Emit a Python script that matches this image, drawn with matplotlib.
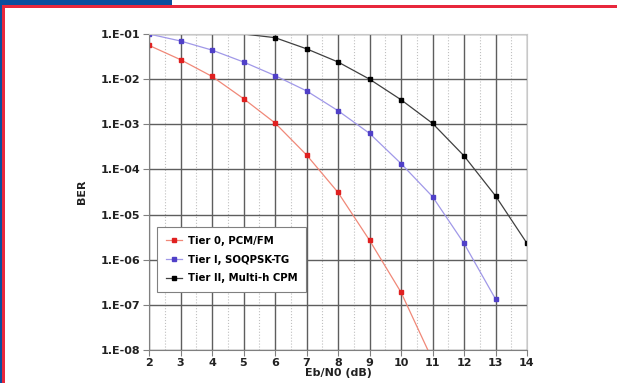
import matplotlib
matplotlib.use("Agg")
import matplotlib.pyplot as plt
from matplotlib.patches import Rectangle
from matplotlib.ticker import FixedLocator, NullFormatter

# ---- data ----
ebn0_tier0 = [2, 3, 4, 5, 6, 7, 8, 9, 10, 11]
ber_tier0 = [5.6e-2, 2.7e-2, 1.15e-2, 3.7e-3, 1.07e-3, 2.1e-4, 3.1e-5, 2.7e-6, 1.9e-7, 6.0e-9]

ebn0_tier1 = [2, 3, 4, 5, 6, 7, 8, 9, 10, 11, 12, 13]
ber_tier1 = [1.0e-1, 7.0e-2, 4.4e-2, 2.4e-2, 1.2e-2, 5.5e-3, 2.0e-3, 6.3e-4, 1.35e-4, 2.5e-5, 2.3e-6, 1.35e-7]

ebn0_tier2 = [5, 6, 7, 8, 9, 10, 11, 12, 13, 14]
ber_tier2 = [1.0e-1, 8.3e-2, 4.7e-2, 2.4e-2, 1.0e-2, 3.5e-3, 1.05e-3, 2.0e-4, 2.6e-5, 2.3e-6]

series_labels = ["Tier 0, PCM/FM", "Tier I, SOQPSK-TG", "Tier II, Multi-h CPM"]
x_ticks = list(range(2, 15))
y_ticks = [1e-1, 1e-2, 1e-3, 1e-4, 1e-5, 1e-6, 1e-7, 1e-8]
y_tick_labels = ["1.E-01", "1.E-02", "1.E-03", "1.E-04", "1.E-05", "1.E-06", "1.E-07", "1.E-08"]
x_label = "Eb/N0 (dB)"
y_label = "BER"

W, H = 617, 383
fig = plt.figure(figsize=(W / 100, H / 100), dpi=100)
fig.patch.set_facecolor("white")

# decorative frame (pixel coords, top-left origin)
def prect(x0, y0, w, h, color):
    fig.patches.append(Rectangle((x0 / W, 1 - (y0 + h) / H), w / W, h / H,
                                 transform=fig.transFigure, color=color, zorder=0, lw=0))

prect(0, 0, 172, 5.5, "#0a4f9e")
prect(0, 0, 2.2, H, "#0a4f9e")
prect(2.2, 5.5, W, 2.2, "#e8283c")
prect(2.2, 5.5, 2.6, H, "#e8283c")

left, right, top, bottom = 149, 527, 34, 350
ax = fig.add_axes([left / W, 1 - bottom / H, (right - left) / W, (bottom - top) / H])

ax.set_yscale("log")
ax.set_xlim(2, 14)
ax.set_ylim(1e-8, 1e-1)

# grid
ax.xaxis.set_major_locator(FixedLocator(x_ticks))
ax.xaxis.set_minor_locator(FixedLocator([x + 0.5 for x in x_ticks[:-1]]))
ax.yaxis.set_major_locator(FixedLocator(y_ticks))
ax.yaxis.set_minor_locator(FixedLocator([]))
ax.yaxis.set_minor_formatter(NullFormatter())
ax.set_yticklabels(y_tick_labels)
ax.grid(True, which="major", axis="both", color="#5e5e5e", lw=1.0)
ax.grid(True, which="minor", axis="x", color="#c0c0c0", lw=0.8, ls=":")
ax.set_axisbelow(True)

for s in ["left", "bottom"]:
    ax.spines[s].set_color("#808080")
for s in ["top", "right"]:
    ax.spines[s].set_color("#c8c8c8")

ax.tick_params(axis="both", which="major", length=4, color="#808080", width=0.8,
               labelsize=8, pad=2)
ax.tick_params(axis="x", which="minor", length=0)
for lab in ax.get_xticklabels() + ax.get_yticklabels():
    lab.set_fontweight("bold")
    lab.set_color("#222222")

ax.plot(ebn0_tier0, ber_tier0, color="#f08878", lw=0.9, marker="s", ms=2.4,
        mfc="#e02020", mec="#e02020", label=series_labels[0])
ax.plot(ebn0_tier1, ber_tier1, color="#a098e8", lw=0.9, marker="s", ms=2.4,
        mfc="#5040c8", mec="#5040c8", label=series_labels[1])
ax.plot(ebn0_tier2, ber_tier2, color="#404040", lw=0.9, marker="s", ms=2.4,
        mfc="#000000", mec="#000000", markevery=list(range(1, len(ebn0_tier2))),
        label=series_labels[2])

ax.set_xlabel(x_label, fontsize=8, fontweight="bold", labelpad=0, color="#222222")
ax.set_ylabel(y_label, fontsize=8, fontweight="bold", labelpad=10, color="#222222")

leg = ax.legend(loc="lower left", bbox_to_anchor=(0.021, 0.184), borderaxespad=0,
                prop={"weight": "bold", "size": 7.3}, fancybox=False,
                framealpha=1, edgecolor="#808080", handlelength=1.6, handletextpad=0.6,
                labelspacing=0.85, borderpad=0.85)
leg.get_frame().set_linewidth(0.8)

fig.savefig("out.png", dpi=100, facecolor="white")
